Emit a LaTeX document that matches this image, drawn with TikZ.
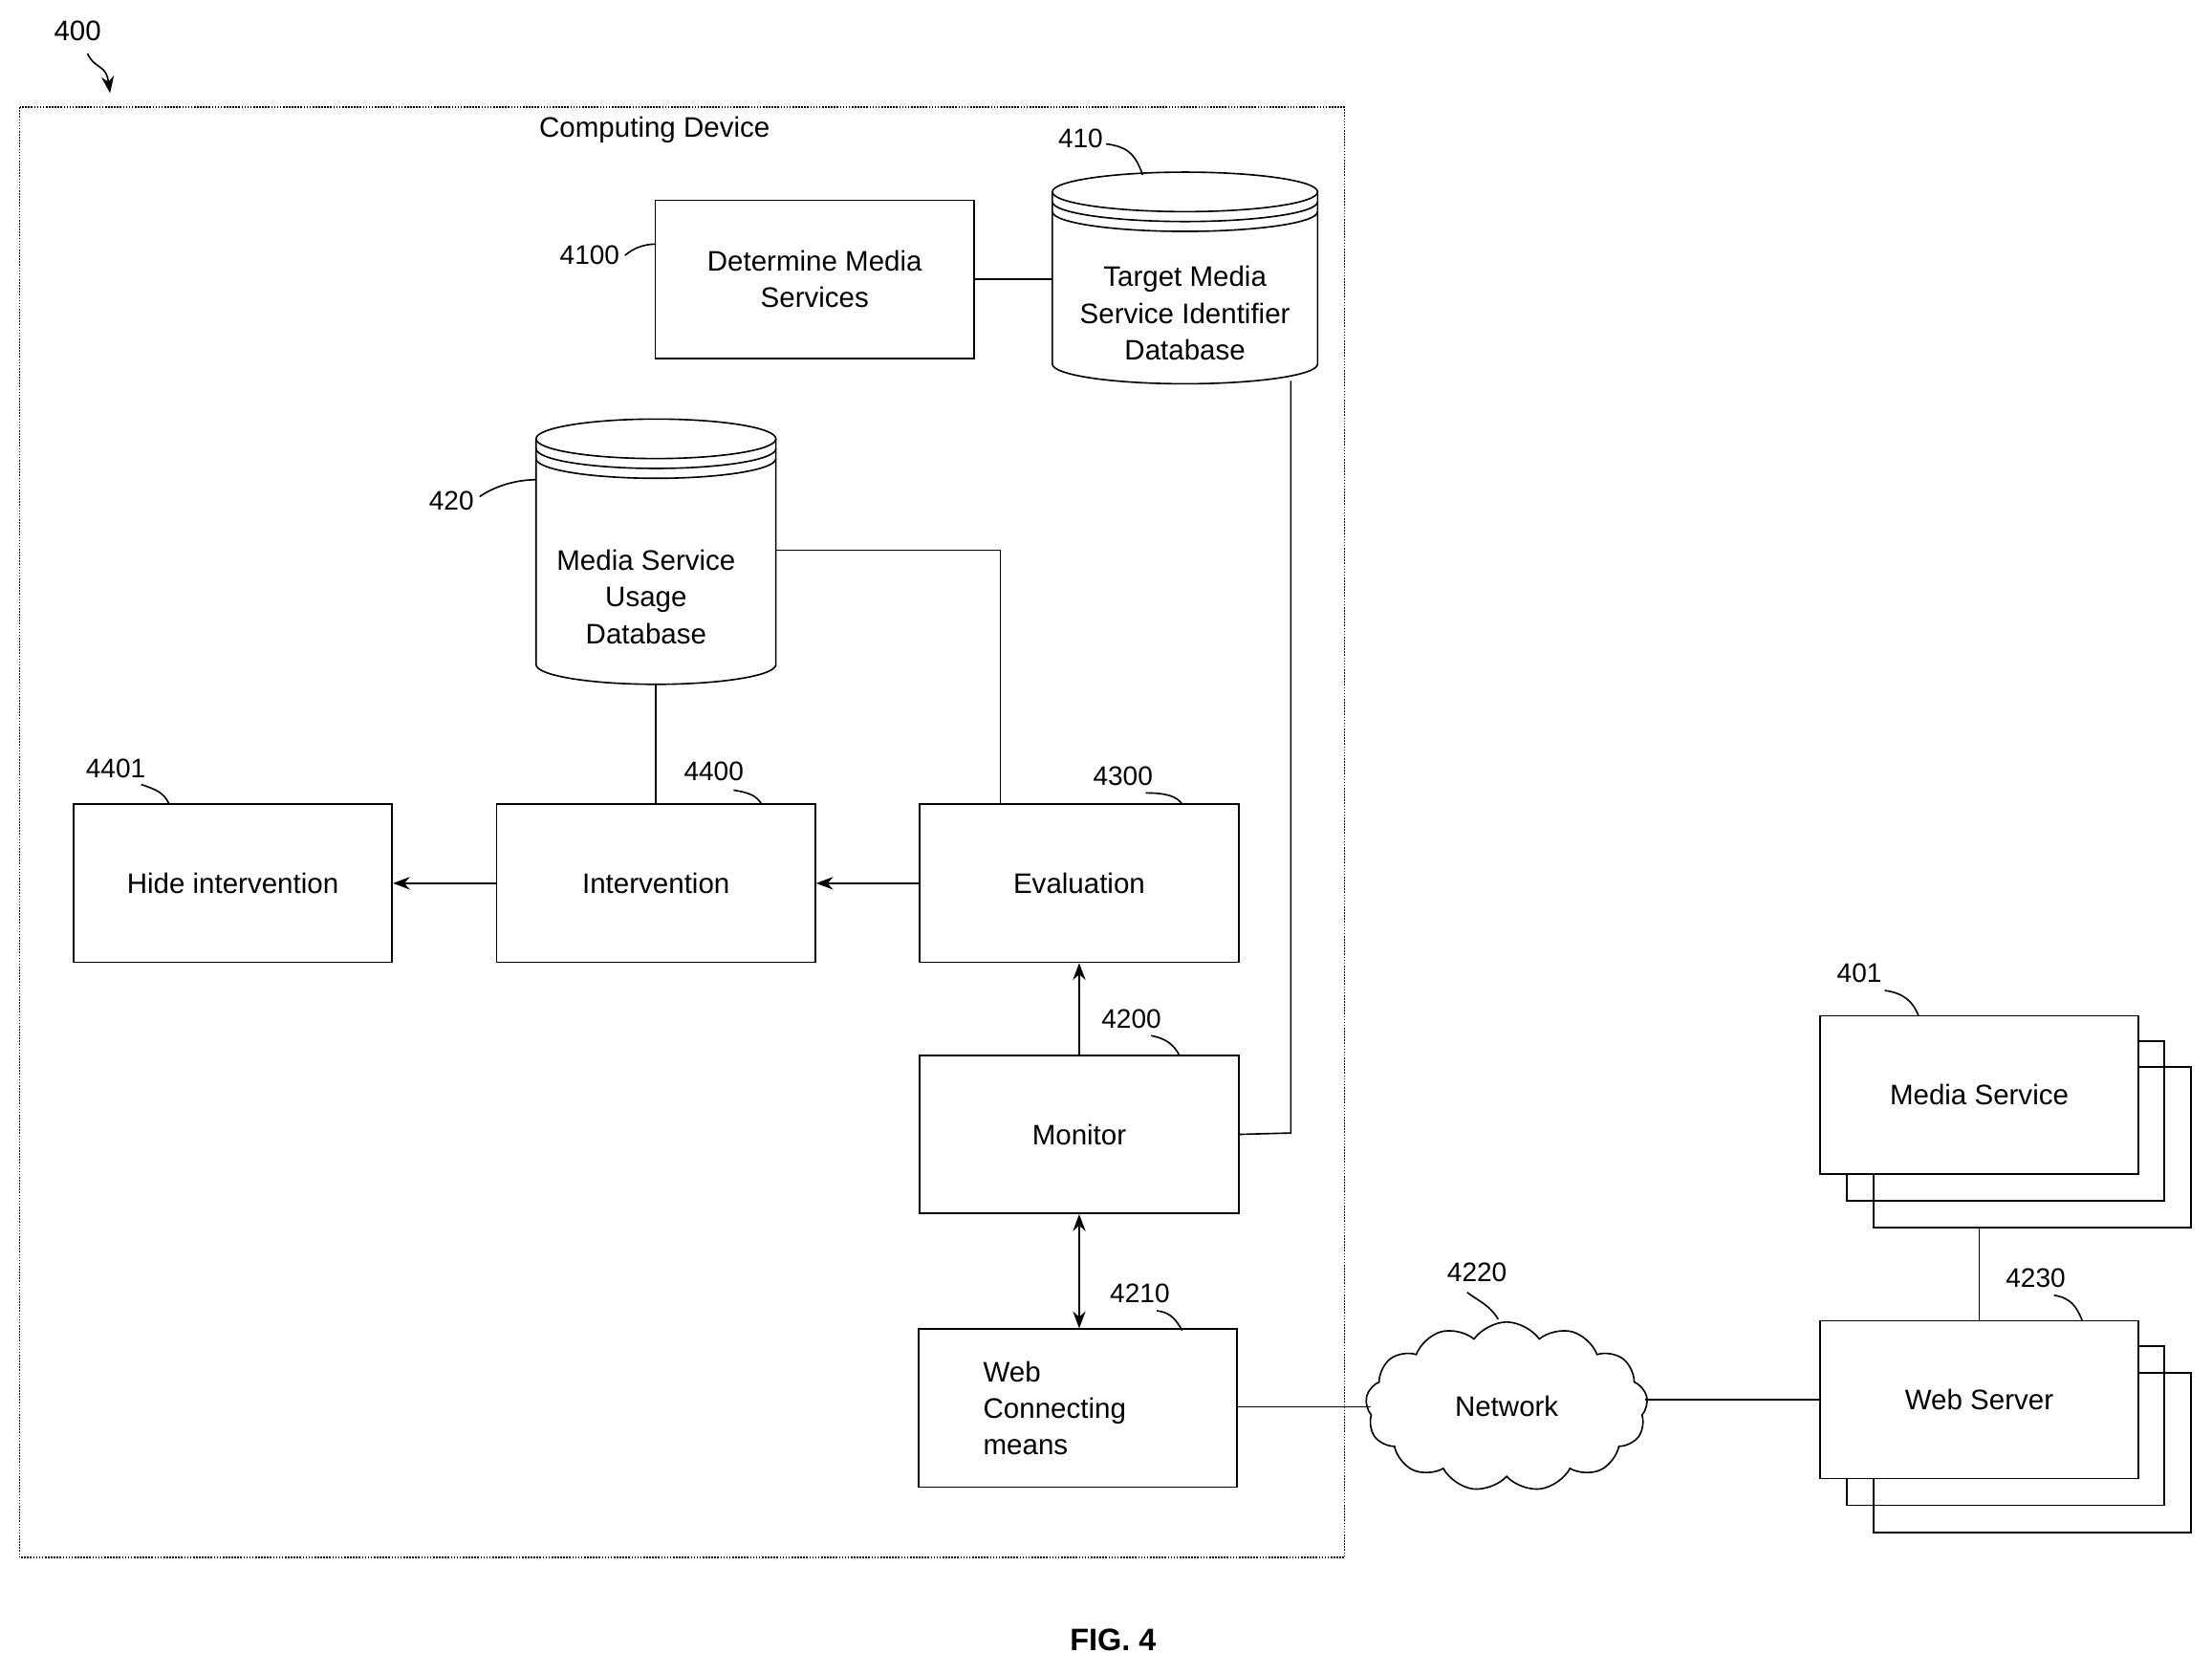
\documentclass[tikz,border=0pt]{standalone}
\usepackage{fontspec}
\setmainfont{Liberation Sans}
\usetikzlibrary{shapes.symbols,arrows.meta}
\begin{document}
\begin{tikzpicture}[x=1pt,y=-1pt,line width=1.1pt,
  every node/.style={font=\fontsize{20}{26}\selectfont},
  box/.style={draw,minimum width=226pt,minimum height=112pt,inner sep=0pt,align=center},
  lbl/.style={font=\fontsize{19}{23}\selectfont},
  arr/.style={-{Stealth[length=12pt,width=9pt]}}]
\useasboundingbox (0,0) rectangle (1568,1187);
\draw[densely dotted] (14,76) rectangle (953,1104);
\node at (464,92) {Computing Device};
\node (l400) at (55,22) {400};
\draw[arr] (62,38) .. controls (68,50) and (75,45) .. (78,66);
% cylinders
\newcommand{\mycyl}[5]{% cx, left, right, top, bottom
  \pgfmathsetmacro\rx{(#3-#2)/2}
  \draw[fill=white] (#2,#4+14) -- (#2,#5-14) arc[start angle=180,end angle=0,x radius=\rx,y radius=14] -- (#3,#4+14);
  \draw (#1,#4+14) ellipse[x radius=\rx,y radius=14];
  \draw (#2,#4+21) arc[start angle=180,end angle=0,x radius=\rx,y radius=14];
  \draw (#2,#4+28) arc[start angle=180,end angle=0,x radius=\rx,y radius=14];
}
\mycyl{840}{746}{934}{122}{272}
\node[align=center] (db410) at (840,222) {Target Media\\Service Identifier\\Database};
\coordinate (db410w) at (746,198);
\coordinate (db410b) at (915,270);
\mycyl{465}{380}{550}{297}{485}
\node[align=center] (db420) at (458,423) {Media Service\\Usage\\Database};
\coordinate (db420e) at (550,390);
\coordinate (db420b) at (465,485);
\node[lbl] at (766,98) {410};
\draw (784,102) .. controls (800,104) and (805,110) .. (810,124);
\node[lbl] at (320,355) {420};
\draw (340,352) .. controls (350,345) and (365,340) .. (380,340);
% boxes
\node[box] (det) at (577.5,198) {Determine Media\\Services};
\node[lbl] at (418,181) {4100};
\draw (443,181) .. controls (450,175) and (458,173) .. (465,173);
\node[box] (hide) at (165,626) {Hide intervention};
\node[box] (int) at (465,626) {Intervention};
\node[box] (eval) at (765,626) {Evaluation};
\node[box] (mon) at (765,804) {Monitor};
\node[box,align=left,text width=134pt] (web) at (764,998) {Web\\Connecting\\means};
\node[lbl] at (82,545) {4401};
\draw (100,556) .. controls (112,560) and (116,562) .. (120,570);
\node[lbl] at (506,547) {4400};
\draw (520,560) .. controls (532,562) and (536,564) .. (540,570);
\node[lbl] at (796,550) {4300};
\draw (812,562) .. controls (826,562) and (834,564) .. (838,570);
\node[lbl] at (802,722) {4200};
\draw (816,734) .. controls (826,736) and (832,740) .. (836,748);
\node[lbl] at (808,917) {4210};
\draw (820,929) .. controls (830,930) and (834,936) .. (838,943);
% connectors
\draw (det.east) -- (db410w);
\draw (db410b) -- (915,803) -- (mon.east);
\draw (db420e) -- (709,390) -- (709,570);
\draw (db420b) -- (int.north);
\draw[arr] (eval.west) -- (int.east);
\draw[arr] (int.west) -- (hide.east);
\draw[arr] (mon.north) -- (eval.south);
\draw[{Stealth[length=12pt,width=9pt]}-{Stealth[length=12pt,width=9pt]}] (mon.south) -- (web.north -| mon.south);
% network
\node[cloud,draw,cloud puffs=13,cloud puff arc=110,aspect=1.7,minimum width=200pt,minimum height=120pt,inner sep=0pt] (net) at (1068,997) {Network};
\node[lbl] at (1047,902) {4220};
\draw (1040,916) .. controls (1048,922) and (1056,925) .. (1062,935);
\draw (web.east |- 0,997) -- (972,997);
% stacks
\draw (1328,756) rectangle (1553,870);
\draw (1309,738) rectangle (1534,851);
\node[box,fill=white] (ms) at (1403,776) {Media Service};
\draw (1328,973) rectangle (1553,1086);
\draw (1309,954) rectangle (1534,1067);
\node[box,fill=white] (ws) at (1403,992) {Web Server};
\draw (1403,870) -- (ws.north);
\draw (1166,992) -- (ws.west);
\node[lbl] at (1318,690) {401};
\draw (1336,702) .. controls (1350,704) and (1356,710) .. (1360,720);
\node[lbl] at (1443,906) {4230};
\draw (1456,918) .. controls (1468,920) and (1472,926) .. (1476,936);
\node[font=\bfseries\fontsize{22}{26}\selectfont] at (789,1162) {FIG. 4};
\end{tikzpicture}
\end{document}
